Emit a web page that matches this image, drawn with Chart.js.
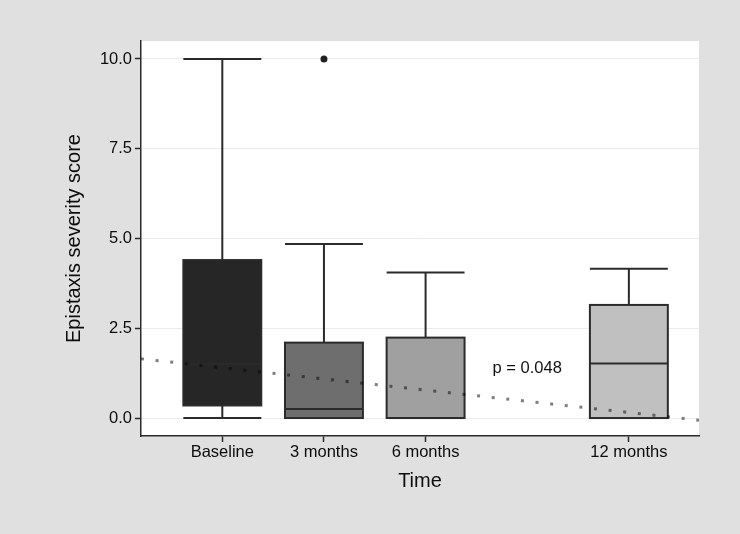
<!DOCTYPE html>
<html>
<head>
<meta charset="utf-8">
<script src="https://cdn.jsdelivr.net/npm/chart.js@4"></script>
<style>
    html, body { margin: 0; padding: 0; background: #e0e0e0; }
    #wrap { width: 740px; height: 534px; }
</style>
</head>
<body>
<div id="wrap"><canvas id="chart"></canvas></div>
<script>
// months since baseline
const timePoints = [0, 3, 6, 12];
const timeLabels = ['Baseline', '3 months', '6 months', '12 months'];
const whiskerLow = [0, 0, 0, 0];
const q1 = [0.35, 0, 0, 0];
const median = [1.5, 0.25, 0, 1.52];
const q3 = [4.4, 2.1, 2.24, 3.15];
const whiskerHigh = [10, 4.85, 4.05, 4.16];
const outlierX = [3];
const outlierY = [10];
const trendX = [-2.4, 14.07];
const trendY = [1.65, -0.06];
const yTicks = [0, 2.5, 5, 7.5, 10];
const pValueText = 'p = 0.048';
const pValueAt = [9, 1.38];

const boxFills = ['#262626', '#6e6e6e', '#a0a0a0', '#c0c0c0'];
const boxWidth = 2.3; // in months
const lineColor = '#2b2b2b';
const fontFamily = '"Liberation Sans", Arial, Helvetica, sans-serif';

const boxPlot = {
    id: 'boxPlot',
    beforeDraw(chart) {
        const { ctx, chartArea: a } = chart;
        ctx.save();
        ctx.fillStyle = '#ffffff';
        ctx.fillRect(a.left, a.top, a.right - a.left, a.bottom - a.top);
        ctx.restore();
    },
    beforeDatasetsDraw(chart) {
        const { ctx, chartArea: a, scales: { x, y } } = chart;
        ctx.save();
        ctx.beginPath();
        ctx.rect(a.left, a.top, a.right - a.left, a.bottom - a.top);
        ctx.clip();
        ctx.lineWidth = 2;
        ctx.strokeStyle = lineColor;

        timePoints.forEach((t, i) => {
            const cx = x.getPixelForValue(t);
            const left = x.getPixelForValue(t - boxWidth / 2);
            const right = x.getPixelForValue(t + boxWidth / 2);
            const yLo = y.getPixelForValue(whiskerLow[i]);
            const yQ1 = y.getPixelForValue(q1[i]);
            const yMed = y.getPixelForValue(median[i]);
            const yQ3 = y.getPixelForValue(q3[i]);
            const yHi = y.getPixelForValue(whiskerHigh[i]);

            ctx.beginPath();
            ctx.moveTo(cx, yHi); ctx.lineTo(cx, yQ3);
            ctx.moveTo(cx, yQ1); ctx.lineTo(cx, yLo);
            ctx.moveTo(left, yHi); ctx.lineTo(right, yHi);
            ctx.moveTo(left, yLo); ctx.lineTo(right, yLo);
            ctx.stroke();

            ctx.fillStyle = boxFills[i];
            ctx.fillRect(left, yQ3, right - left, yQ1 - yQ3);
            ctx.strokeRect(left, yQ3, right - left, yQ1 - yQ3);

            ctx.beginPath();
            ctx.moveTo(left, yMed); ctx.lineTo(right, yMed);
            ctx.stroke();
        });

        ctx.fillStyle = '#111';
        ctx.font = '16.5px ' + fontFamily;
        ctx.textAlign = 'center';
        ctx.textBaseline = 'middle';
        ctx.fillText(pValueText, x.getPixelForValue(pValueAt[0]), y.getPixelForValue(pValueAt[1]));
        ctx.restore();
    }
};

new Chart(document.getElementById('chart'), {
    type: 'scatter',
    data: {
        datasets: [
            {
                label: 'Trend',
                data: trendX.map((v, i) => ({ x: v, y: trendY[i] })),
                showLine: true,
                borderColor: 'rgba(0,0,0,0.5)',
                borderWidth: 3,
                borderDash: [3, 11.7],
                borderCapStyle: 'butt',
                pointRadius: 0
            },
            {
                label: 'Outliers',
                data: outlierX.map((v, i) => ({ x: v, y: outlierY[i] })),
                pointRadius: 3.5,
                pointBackgroundColor: '#222',
                pointBorderWidth: 0
            }
        ]
    },
    plugins: [boxPlot],
    options: {
        responsive: true,
        maintainAspectRatio: false,
        animation: false,
        layout: { padding: { top: 41, right: 41, left: 0, bottom: 0 } },
        plugins: {
            legend: { display: false },
            tooltip: { enabled: false }
        },
        scales: {
            x: {
                type: 'linear',
                min: -2.4,
                max: 14.07,
                afterBuildTicks: scale => {
                    scale.ticks = timePoints.map(v => ({ value: v }));
                },
                afterFit: scale => { scale.height = 98; },
                ticks: {
                    autoSkip: false,
                    maxRotation: 0,
                    padding: 1,
                    color: '#0d0d0d',
                    font: { family: fontFamily, size: 16.5 },
                    callback: value => timeLabels[timePoints.indexOf(value)]
                },
                grid: {
                    drawOnChartArea: false,
                    drawTicks: true,
                    tickLength: 6,
                    tickColor: lineColor,
                    tickWidth: 1.5
                },
                border: { display: true, color: lineColor, width: 1.5 },
                title: {
                    display: true,
                    text: 'Time',
                    color: '#0d0d0d',
                    font: { family: fontFamily, size: 20 },
                    padding: { top: 0, bottom: 41 }
                }
            },
            y: {
                min: -0.5,
                max: 10.5,
                afterBuildTicks: scale => {
                    scale.ticks = yTicks.map(v => ({ value: v }));
                },
                afterFit: scale => { scale.width = 141; },
                ticks: {
                    padding: 3,
                    color: '#0d0d0d',
                    font: { family: fontFamily, size: 16.5 },
                    callback: value => value.toFixed(1)
                },
                grid: {
                    color: '#e8ecec',
                    lineWidth: 1,
                    drawTicks: true,
                    tickLength: 6,
                    tickColor: lineColor,
                    tickWidth: 1.5
                },
                border: { display: true, color: lineColor, width: 1.5 },
                title: {
                    display: true,
                    text: 'Epistaxis severity score',
                    color: '#0d0d0d',
                    font: { family: fontFamily, size: 20 },
                    padding: { top: 62, bottom: 0 }
                }
            }
        }
    }
});
</script>
</body>
</html>
